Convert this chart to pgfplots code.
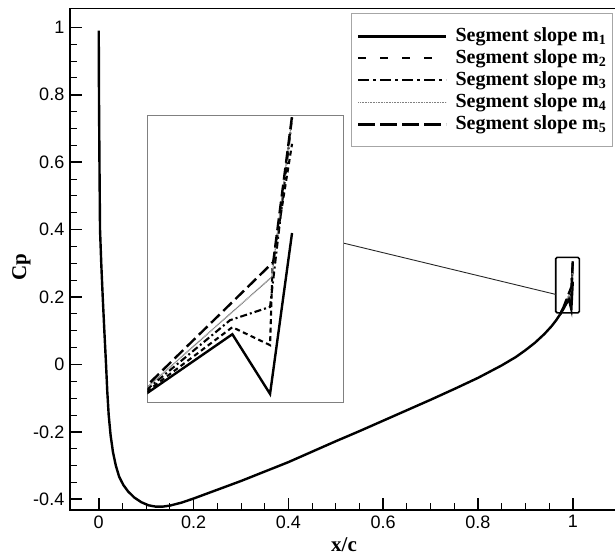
\documentclass[border=0pt]{standalone}
\usepackage{pgfplots}
\pgfplotsset{compat=1.18}
\usepackage{pgfplotstable}
\usepackage{fontspec}
\setmainfont{Liberation Serif}
\newfontfamily\arialf{Liberation Sans}

% common part of all five distributions
\pgfplotstableread{
x y
0 0.99
0.0005 0.8
0.0015 0.6
0.0027 0.4
0.0053 0.3
0.0084 0.2
0.0118 0.1
0.0154 0
0.018 -0.08
0.021 -0.15
0.025 -0.21
0.030 -0.26
0.036 -0.30
0.043 -0.333
0.052 -0.358
0.062 -0.377
0.075 -0.395
0.09 -0.409
0.105 -0.418
0.12 -0.422
0.135 -0.422
0.15 -0.419
0.175 -0.41
0.2 -0.398
0.25 -0.372
0.3 -0.346
0.35 -0.318
0.4 -0.29
0.45 -0.259
0.5 -0.228
0.55 -0.198
0.6 -0.167
0.65 -0.136
0.7 -0.105
0.75 -0.073
0.8 -0.04
0.85 -0.003
0.88 0.022
0.9 0.042
0.92 0.064
0.94 0.09
0.955 0.113
0.965 0.131
0.973 0.148
}\base
% trailing-edge parts of each series
\pgfplotstableread{
x y
0.973 0.148
0.98 0.164
0.99175 0.1941
0.99696 0.1635
1.0 0.246
}\tA
\pgfplotstableread{
x y
0.973 0.148
0.98 0.165
0.99175 0.1977
0.99696 0.1885
0.9973 0.229
1.0 0.2917
}\tB
\pgfplotstableread{
x y
0.973 0.148
0.98 0.166
0.99143 0.2013
0.99696 0.2081
1.0 0.305
}\tC
\pgfplotstableread{
x y
0.973 0.148
0.98 0.167
0.99719 0.2234
1.0 0.305
}\tD
\pgfplotstableread{
x y
0.973 0.148
0.98 0.168
0.9974 0.2311
1.0 0.306
}\tE

\tikzset{
  mA/.style={black, line width=2.4pt, solid},
  mB/.style={black, line width=2.1pt, dash pattern=on 8pt off 14pt},
  mC/.style={black, line width=2.1pt, dash pattern=on 11pt off 4pt on 3pt off 4pt},
  mD/.style={gray, line width=1.3pt, dash pattern=on 1pt off 0.6pt},
  mE/.style={black, line width=2.4pt, dash pattern=on 17pt off 5pt},
  iB/.style={black, line width=2.1pt, dash pattern=on 5pt off 3.5pt},
  iC/.style={black, line width=2.1pt, dash pattern=on 7pt off 3pt on 2pt off 3pt},
  iE/.style={black, line width=2.4pt, dash pattern=on 12pt off 5pt},
}
\newcommand\lstrut{\rule[-6pt]{0pt}{22pt}}

\begin{document}
\begin{tikzpicture}
\begin{axis}[
  name=main,
  scale only axis, width=547.5pt, height=501.5pt,
  xmin=-0.06, xmax=1.095, ymin=-0.432, ymax=1.056,
  axis line style={line width=1.6pt},
  tick align=inside, xtick pos=lower, ytick pos=left,
  major tick length=12pt, minor tick length=7pt,
  major tick style={line width=1.6pt, black},
  minor tick style={line width=0.9pt, black},
  xtick={0,0.2,0.4,0.6,0.8,1}, xticklabels={0,0.2,0.4,0.6,0.8,1},
  ytick={-0.4,-0.2,0,0.2,0.4,0.6,0.8,1},
  yticklabels={-0.4,-0.2,0,0.2,0.4,0.6,0.8,1},
  minor x tick num=3, minor y tick num=3,
  ticklabel style={font=\arialf\fontsize{18}{18}\selectfont},
  xticklabel style={yshift=-2pt},
  yticklabel style={xshift=-2.5pt},
  xlabel={x/c}, ylabel={Cp},
  label style={font=\bfseries\fontsize{21}{21}\selectfont},
  xlabel style={at={(axis description cs:0.5,0)}, anchor=center, yshift=-35pt},
  ylabel style={at={(axis description cs:-0.0895,0.485)}, anchor=center},
  legend image code/.code={\draw[#1] (0pt,0pt) -- (88pt,0pt);},
  legend style={at={(1,1)}, anchor=north east, xshift=-5pt, yshift=-5pt,
    draw=gray!70, line width=0.8pt,
    font=\bfseries\fontsize{20}{22}\selectfont,
    column sep=8pt, row sep=0pt,
    inner xsep=6pt, inner ysep=11.5pt,
    nodes={inner xsep=0pt, inner ysep=0pt, text depth=, text height=}},
  legend cell align=left,
]
\addplot[mA, forget plot] table {\base};
\addplot[mA] table {\tA};
\addlegendentry{\lstrut Segment slope m\textsubscript{1}}
\addplot[mB] table {\tB};
\addlegendentry{\lstrut Segment slope m\textsubscript{2}}
\addplot[mC] table {\tC};
\addlegendentry{\lstrut Segment slope m\textsubscript{3}}
\addplot[mD] table {\tD};
\addlegendentry{\lstrut Segment slope m\textsubscript{4}}
\addplot[mE] table {\tE};
\addlegendentry{\lstrut Segment slope m\textsubscript{5}}
\draw[line width=1.6pt, rounded corners=1.5pt] (axis cs:0.964,0.153) rectangle (axis cs:1.014,0.3175);
\draw[line width=0.9pt, black!85] (axis cs:0.516,0.36) -- (axis cs:0.964,0.2077);
\end{axis}

\begin{axis}[
  at={(main.south west)}, anchor=south west, xshift=77pt, yshift=107.3pt,
  scale only axis, width=196pt, height=287.7pt,
  xmin=0.98, xmax=1.0071, ymin=0.159, ymax=0.3065,
  ticks=none,
  axis line style={gray, line width=0.9pt},
  axis background/.style={fill=white},
]
\addplot[mA] table {\base};
\addplot[mA] table {\tA};
\addplot[iB] table {\tB};
\addplot[iC] table {\tC};
\addplot[mD] table {\tD};
\addplot[iE] table {\tE};
\end{axis}

\pgfresetboundingbox
\path ([shift={(-70.3pt,-47pt)}]main.south west) rectangle ([shift={(-2.8pt,8.5pt)}]main.north east);
\end{tikzpicture}
\end{document}
